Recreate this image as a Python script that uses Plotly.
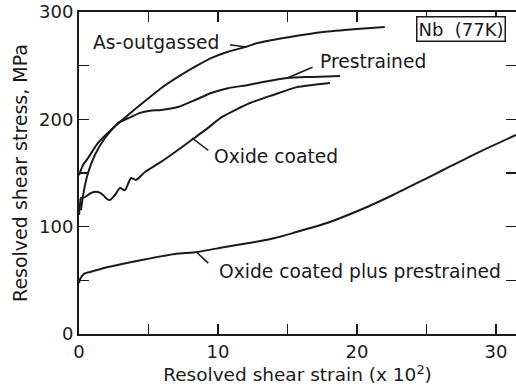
import plotly.graph_objects as go

# --- data (strain x10^2, stress MPa) ---
as_out_x = [0, 0.29, 0.65, 1.37, 2.30, 3.53, 4.75, 5.90, 7.12, 8.35, 9.50, 10.72, 12.01, 12.81, 15.18, 17.55, 20.0, 22.0]
as_out_y = [148, 157.5, 164, 178, 190, 204, 217, 229, 239.5, 249, 257, 263, 267.5, 271, 276.7, 281.4, 284.2, 286]

pre_x = [0.14, 0.36, 0.65, 1.15, 1.87, 2.81, 3.53, 4.39, 5.1, 5.9, 7.12, 8.35, 9.50, 10.72, 12.16, 13.24, 14.96, 16.83, 18.78]
pre_y = [115.5, 134, 150, 167, 182.6, 196.6, 201, 206, 208, 208.7, 211.5, 218, 224.5, 229, 232, 234.8, 238.5, 239.5, 240.4]

ox_x = [0, 0.07, 0.14, 0.43, 0.86, 1.37, 1.73, 2.01, 2.23, 2.59, 2.95, 3.31, 3.74, 4.1, 4.75, 5.9, 7.12, 8.2, 9.28, 10.29, 12.3, 13.96, 15.68, 18.06]
ox_y = [111, 120, 126.7, 127.6, 131.4, 132.3, 129.5, 125.8, 124.8, 129.5, 136, 134, 145.3, 143.5, 151, 160.3, 171.4, 181.7, 192, 202.2, 215.2, 222.7, 230, 233.9]

oxp_x = [0, 0.07, 0.36, 0.79, 2.09, 4.53, 6.91, 8.49, 10.5, 12.66, 14.1, 15.4, 17.84, 20.22, 22.59, 25.04, 26.19, 28.63, 31.44]
oxp_y = [47.5, 51, 56, 57.8, 62.4, 69, 74.5, 76.4, 81, 85.7, 89.4, 94.1, 103.4, 115.5, 129.5, 145.3, 152.8, 168.6, 185.4]

x_major = 10
x_minor = 5
y_major = 100
y_minor = 50

FONT = "DejaVu Sans"
INK = "#1a1a1a"

fig = go.Figure()
for xs, ys in [(as_out_x, as_out_y), (pre_x, pre_y), (ox_x, ox_y), (oxp_x, oxp_y)]:
    fig.add_trace(go.Scatter(x=xs, y=ys, mode="lines", line=dict(color=INK, width=2, shape="spline", smoothing=0.6),
                             showlegend=False, hoverinfo="skip"))

# label pointers (data coordinates)
pointers = [
    (10.86, 269.5, 12.0, 267.4),
    (16.8, 248.5, 14.9, 238.0),
    (8.13, 182.6, 9.3, 171.0),
    (8.49, 75.8, 9.3, 66.0),
]
for x0, y0, x1, y1 in pointers:
    fig.add_shape(type="line", x0=x0, y0=y0, x1=x1, y1=y1, line=dict(color=INK, width=1.5))

labels = [
    ("As-outgassed", 10.2, 272, "right"),
    ("Prestrained", 17.2, 253.5, "left"),
    ("Oxide coated", 9.55, 165, "left"),
    ("Oxide coated plus prestrained", 9.9, 57.8, "left"),
]
for t, x, y, xa in labels:
    fig.add_annotation(x=x, y=y, text=t, showarrow=False, xanchor=xa, yanchor="middle",
                       font=dict(family=FONT, size=18.7, color=INK))

fig.add_annotation(x=27.5, y=284, text="Nb  (77K)", showarrow=False, xanchor="center", yanchor="middle",
                   font=dict(family=FONT, size=18, color=INK), bordercolor=INK, borderwidth=1.5,
                   borderpad=1, bgcolor="white")

axis_common = dict(showline=True, linewidth=2, linecolor=INK, mirror="ticks", ticks="inside",
                   ticklen=10, tickwidth=1.5, tickcolor=INK, showgrid=False, zeroline=False,
                   tickfont=dict(family=FONT, size=18, color=INK), automargin=False,
                   ticklabeloverflow="allow")

fig.update_xaxes(range=[0, 31.44], tick0=0, dtick=x_major,
                 minor=dict(tick0=0, dtick=x_minor, ticks="inside", ticklen=10, tickwidth=1.5, tickcolor=INK, showgrid=False),
                 title=dict(text="Resolved shear strain (x 10<sup>2</sup>)", font=dict(family=FONT, size=18.5, color=INK), standoff=2),
                 **axis_common)
fig.update_yaxes(range=[0, 300], tick0=0, dtick=y_major,
                 minor=dict(tick0=0, dtick=y_minor, ticks="inside", ticklen=10, tickwidth=1.5, tickcolor=INK, showgrid=False),
                 title=dict(text="Resolved shear stress, MPa", font=dict(family=FONT, size=19, color=INK), standoff=6),
                 **axis_common)

fig.update_layout(width=516, height=388, margin=dict(l=79, r=0, t=12, b=54, pad=0),
                  plot_bgcolor="white", paper_bgcolor="white")

# remove the default 8px page margin so the figure fills the 516x388 window exactly
fig.write_html("out.html", config={"displayModeBar": False, "staticPlot": True},
               post_script="document.body.style.margin='0px';")
